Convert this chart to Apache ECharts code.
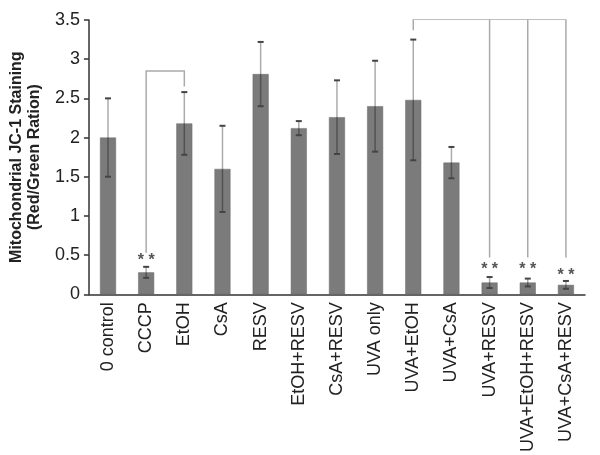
<!DOCTYPE html>
<html>
<head>
  <meta charset="UTF-8">
  <title>Mitochondrial JC-1 Staining</title>
  <script src="https://cdn.jsdelivr.net/npm/echarts@6/dist/echarts.min.js"></script>
  <style>body{margin:0;background:#fff}</style>
</head>
<body>
  <div id="main" style="width:600px;height:455px"></div>
  <script>
  const categories = ['0 control','CCCP','EtOH','CsA','RESV','EtOH+RESV','CsA+RESV','UVA only','UVA+EtOH','UVA+CsA','UVA+RESV','UVA+EtOH+RESV','UVA+CsA+RESV'];
  const values = [2.0, 0.28, 2.18, 1.6, 2.81, 2.12, 2.26, 2.40, 2.48, 1.68, 0.15, 0.15, 0.12];
  const errors = [0.5, 0.07, 0.4, 0.55, 0.41, 0.09, 0.47, 0.58, 0.77, 0.2, 0.07, 0.05, 0.05];
  // significance marks: [category, y value]
  const stars = [['CCCP',0.43],['UVA+RESV',0.31],['UVA+EtOH+RESV',0.31],['UVA+CsA+RESV',0.24]];
  // comparison brackets, as polylines of [category, y value]
  const brackets = [
    [['CCCP',0.53],['CCCP',2.85],['EtOH',2.85],['EtOH',2.65]],
    [['UVA+EtOH',3.37],['UVA+EtOH',3.51],['UVA+CsA+RESV',3.51],['UVA+CsA+RESV',0.47]],
    [['UVA+RESV',3.51],['UVA+RESV',0.47]],
    [['UVA+EtOH+RESV',3.51],['UVA+EtOH+RESV',0.47]]
  ];

  const idx = c => categories.indexOf(c);
  const font = 'Liberation Sans, Arial, sans-serif';
  const chart = echarts.init(document.getElementById('main'));
  chart.setOption({
    animation:false,
    textStyle:{fontFamily:font},
    grid:{left:82,right:15,top:20,bottom:160},
    xAxis:{
      type:'category', data:categories,
      axisLine:{lineStyle:{color:'#333',width:1.5}},
      axisTick:{length:5,lineStyle:{color:'#333',width:1.5}},
      axisLabel:{rotate:90,interval:0,fontSize:18,color:'#222',margin:8,fontFamily:font}
    },
    yAxis:{
      type:'value', min:0, max:3.5, interval:0.5,
      name:'Mitochondrial JC-1 Staining\n(Red/Green Ration)',
      nameLocation:'middle', nameGap:38,
      nameTextStyle:{fontSize:16,fontWeight:'bold',color:'#222',lineHeight:18,fontFamily:font},
      axisLine:{show:true,lineStyle:{color:'#333',width:1.5}},
      axisTick:{show:true,length:5,lineStyle:{color:'#333',width:1.5}},
      axisLabel:{fontSize:18,color:'#222',margin:9,fontFamily:font},
      splitLine:{show:false}
    },
    series:[
      {type:'bar',data:values,barWidth:16,z:2,
       itemStyle:{color:'#7b7b7b',borderColor:'#6a6a6a',borderWidth:0.5}},
      {type:'custom',z:5,
       data:values.map((v,i)=>[i,v-errors[i],v+errors[i]]),
       renderItem:(params,api)=>{
         const lo = api.coord([api.value(0),api.value(1)]);
         const hi = api.coord([api.value(0),api.value(2)]);
         const x = lo[0], w = 3;
         return {type:'group',children:[
           {type:'line',shape:{x1:x,y1:lo[1],x2:x,y2:hi[1]},style:{stroke:'rgba(0,0,0,0.33)',lineWidth:1.5}},
           {type:'line',shape:{x1:x-w,y1:lo[1],x2:x+w,y2:lo[1]},style:{stroke:'#444',lineWidth:2}},
           {type:'line',shape:{x1:x-w,y1:hi[1],x2:x+w,y2:hi[1]},style:{stroke:'#444',lineWidth:2}}
         ]};
       }},
      {type:'lines',coordinateSystem:'cartesian2d',polyline:true,silent:true,z:4,
       data:brackets.map(b=>({coords:b.map(p=>[idx(p[0]),p[1]])})),
       lineStyle:{color:'#aaa',width:1.5,opacity:1}},
      {type:'custom',z:6,
       data:stars.map(s=>[idx(s[0]),s[1]]),
       renderItem:(params,api)=>{
         const p = api.coord([api.value(0),api.value(1)]);
         return {type:'text',x:p[0],y:p[1],
           style:{text:'* *',fontSize:16,fontWeight:'bold',fill:'#555',align:'center',verticalAlign:'middle',fontFamily:font}};
       }}
    ]
  });
  </script>
</body>
</html>
